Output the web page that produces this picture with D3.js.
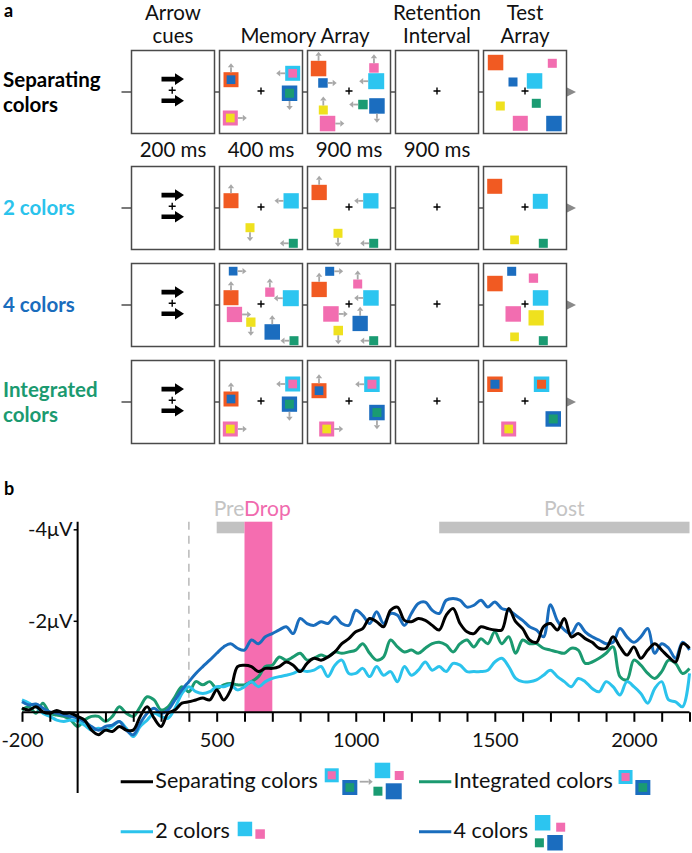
<!DOCTYPE html>
<html><head><meta charset="utf-8">
<script src="https://cdn.jsdelivr.net/npm/d3@7"></script>
<style>body{margin:0;background:#fff}svg{display:block}text{font-family:Lato,"Open Sans",sans-serif}</style>
</head><body><svg id="c" width="692" height="853"></svg>
<script>
// ---------- DATA ----------
const times = d3.range(-200, 2201, 25);   // ms
const sepColors = [-0.09,-0.05,-0.12,-0.01,0.02,-0.04,0.02,0.02,0.09,0.17,0.39,0.49,0.39,0.42,0.31,0.39,0.39,0.09,-0.12,0.13,0.31,0.02,-0.05,-0.2,-0.23,-0.27,-0.31,-0.27,-0.49,-0.27,-0.49,-1.0,-1.03,-1.0,-0.89,-0.96,-0.96,-1.0,-1.1,-1.03,-0.89,-1.07,-1.18,-1.14,-1.21,-1.32,-1.5,
 -1.61,-1.76,-1.83,-2.05,-1.98,-1.87,-2.23,-2.3,-2.01,-1.98,-2.05,-2.01,-1.9,-1.8,-2.12,-2.27,-1.94,-1.76,-1.72,-1.87,-1.83,-1.8,-1.8,-2.27,-1.98,-1.83,-1.58,-1.53,-1.87,-1.94,-1.8,-2.05,-1.65,-1.72,-1.61,-1.53,-1.4,-1.4,-1.65,-1.43,-1.25,-1.43,-1.18,-1.36,-1.5,-1.36,-1.21,-1.1,-1.5,-1.4];
const twoColors = [-0.27,-0.2,-0.12,0.02,0.09,0.17,0.2,0.17,0.2,0.28,0.39,0.35,0.39,0.31,0.2,0.35,0.53,0.31,0.17,0.02,0.09,0.13,-0.09,-0.41,-0.56,-0.45,-0.41,-0.45,-0.56,-0.56,-0.6,-0.49,-0.56,-0.67,-0.56,-0.67,-0.74,-0.78,-0.81,-0.85,-0.92,-0.89,-0.92,-1.0,-0.78,-1.03,-1.14,
 -0.85,-0.85,-0.96,-0.78,-1.0,-0.81,-0.89,-0.67,-1.0,-0.81,-0.92,-1.1,-0.92,-1.0,-0.89,-1.07,-1.03,-0.89,-0.89,-0.89,-0.92,-1.1,-1.18,-1.0,-0.74,-0.67,-0.67,-0.71,-0.81,-0.92,-0.78,-0.67,-0.56,-0.74,-0.67,-0.52,-0.45,-0.67,-0.56,-0.38,-0.67,-0.56,-0.41,-0.2,-0.52,-0.67,-0.27,-0.23,-0.12,-0.85];
const fourColors = [-0.23,-0.16,-0.18,-0.09,-0.01,0.02,0.06,0.09,0.13,0.2,0.31,0.39,0.31,0.28,0.2,0.39,0.49,0.24,0.02,-0.09,0.02,-0.05,-0.27,-0.49,-0.67,-0.85,-1.0,-1.14,-1.29,-1.43,-1.5,-1.4,-1.36,-1.58,-1.5,-1.65,-1.72,-1.8,-1.87,-1.72,-2.05,-1.94,-1.9,-1.98,-1.94,-2.09,-1.94,
 -1.9,-2.23,-2.12,-1.94,-2.2,-1.94,-2.16,-2.12,-1.9,-2.16,-2.38,-2.41,-2.23,-2.16,-2.45,-2.49,-2.45,-2.3,-2.34,-2.45,-2.3,-2.41,-2.27,-2.23,-2.12,-2.01,-1.87,-1.8,-1.65,-2.35,-2.0,-1.8,-1.72,-1.94,-1.76,-1.65,-1.58,-1.5,-1.53,-1.83,-1.65,-1.53,-1.65,-1.83,-1.29,-1.5,-1.4,-1.18,-1.53,-1.36];
const intColors = [-0.05,-0.12,0.02,-0.2,0.02,0.06,0.09,0.17,0.31,0.17,0.09,0.09,0.2,0.09,-0.12,0.02,0.09,-0.12,-0.34,-0.27,-0.05,-0.12,-0.34,-0.56,-0.45,-0.67,-0.6,-0.67,-0.52,-0.6,-0.63,-0.6,-0.6,-0.67,-0.78,-1.0,-1.03,-1.21,-1.14,-1.21,-1.29,-1.14,-1.18,-1.25,-1.21,-1.32,-1.29,
 -1.32,-1.36,-1.5,-1.29,-1.14,-1.21,-1.58,-1.43,-1.32,-1.36,-1.29,-1.4,-1.5,-1.53,-1.47,-1.32,-1.5,-1.58,-1.43,-1.61,-1.5,-1.76,-1.5,-1.65,-1.29,-1.58,-1.5,-1.5,-1.4,-1.36,-1.32,-1.29,-1.4,-1.36,-1.07,-1.1,-1.18,-1.29,-1.43,-0.78,-0.71,-1.14,-1.03,-0.85,-0.74,-0.89,-1.14,-1.07,-0.85,-0.96];
const seriesNames = ["Separating colors","2 colors","4 colors","Integrated colors"];
const xTicks = d3.range(-200, 2201, 100);
const xTickLabels = [-200, 500, 1000, 1500, 2000];
const yTicks = [-4, -2];
const yTickLabels = ["-4μV", "-2μV"];
const windowNames = ["Pre", "Drop", "Post"];
const windowStarts = [500, 600, 1300];
const windowEnds = [600, 700, 2200];
const cueLine = 400;
const phaseHeaders = [["Arrow","cues"],["","Memory Array"],["Retention","Interval"],["Test","Array"]];
const durations = ["200 ms","400 ms","900 ms","900 ms"];

// ---------- STYLE ----------
const COL = {orange:"#F15A22", cyan:"#2CC5F0", blue:"#1B6DBF", green:"#1A9B72", pink:"#F26DB0", yellow:"#EFE11E"};
const lineColors = ["#000000","#2BC3EC","#1A6DBD","#1B9A70"];
const GRAYARROW = "#A8A8A8";
const svg = d3.select("#c");
const FONT = 'Lato,"Open Sans",sans-serif';

// ---------- PANEL A layout ----------
const panelX = d3.scaleLinear().domain([0,1]).range([131.5, 219.5]); // column index -> x
const rowY = [50.5, 166.5, 263.5, 360.5];
const PS = 83;
const rel = d3.scaleLinear().domain([0, 83]).range([0, PS]);

// stimulus layouts: [color, inner, x, y, size, arrowDir]
const stim = [
 { // separating
  1:[["orange","blue",4,21.7,15,"u"],["cyan","pink",65.7,15.3,15,"l"],["blue","green",62.3,35,15.5,"d"],["pink","yellow",3.3,60,15,"r"]],
  2:[["orange",null,3.3,10.3,15.5,"u"],["blue",null,10.7,27.7,9.5,"r"],["pink",null,61.7,12.7,9.5,"u"],["cyan",null,60.7,22.7,16,"l"],["green",null,50.7,49.3,9.5,"l"],["blue",null,61.7,47.7,15.5,"d"],["yellow",null,11.3,55,9,"u"],["pink",null,12.3,65.3,15.5,"r"]],
  4:[["orange",null,4.3,4.3,15.5],["pink",null,64.3,8.3,9],["blue",null,25,27,9],["cyan",null,43.3,22.7,15.5],["yellow",null,12.3,51,9],["green",null,48.3,48.3,9],["pink",null,29.3,65.3,15],["blue",null,62.7,65.3,15.5]]
 },
 { // 2 colors
  1:[["orange",null,4,26.7,15,"u"],["cyan",null,64,26.7,15.3,"l"],["yellow",null,26,56.7,9,"d"],["green",null,69.3,72.3,9,"l"]],
  2:[["orange",null,4,18.3,15.3,"u"],["cyan",null,55.7,26.7,15.3,"l"],["yellow",null,26,62.3,9,"d"],["green",null,61.7,72.3,9,"l"]],
  4:[["orange",null,3.7,12.3,15],["cyan",null,49.3,27.3,15],["yellow",null,26.7,69,8.7],["green",null,55.3,72.3,9]]
 },
 { // 4 colors
  1:[["blue",null,9.3,3.3,8.7,"r"],["orange",null,4,26.7,15,"u"],["pink",null,45.7,24,9.3,"u"],["cyan",null,63.3,26.7,16,"l"],["pink",null,7.3,43.3,15.3,"r"],["yellow",null,26.7,54,9.3,"d"],["blue",null,45,60.7,15.5,"u"],["green",null,70,72.7,9,"l"]],
  2:[["blue",null,17.7,3.3,9,"r"],["orange",null,4,18.3,15.3,"u"],["pink",null,45.7,16,9,"u"],["cyan",null,55.7,26.7,15.5,"l"],["pink",null,15.7,42.7,15.5,"r"],["blue",null,45,52.3,15.3,"u"],["yellow",null,26,62.3,9.5,"d"],["green",null,61.7,72.7,9,"l"]],
  4:[["blue",null,23.7,3.3,9],["orange",null,3.7,12.3,15.5],["pink",null,45.3,10,9.3],["cyan",null,49.3,26.7,15.5],["pink",null,22,42.7,15.5],["yellow",null,45,46.7,15.3],["yellow",null,26.7,69,8.7],["green",null,55.3,72.7,9]]
 },
 { // integrated
  1:[["orange","blue",4,31,15,"u"],["cyan","pink",65.7,16,15,"l"],["blue","green",62.3,36,15.3,"d"],["pink","yellow",3.3,61,15,"r"]],
  2:[["orange","blue",4,22.7,15,"u"],["cyan","pink",56.7,16,15.5,"l"],["blue","green",61.7,44.3,15.5,"d"],["pink","yellow",11.7,61,15,"r"]],
  4:[["orange","blue",3.7,16,15.5],["cyan","orange",50.3,16,15.5],["blue","green",62,50.7,15.5],["pink","yellow",17.7,61,15]]
 }
];

function grayArrow(g, x, y, dir, len) {
  len = len || 9;
  const v = {u:[0,-1], d:[0,1], l:[-1,0], r:[1,0]}[dir];
  const x2 = x + v[0]*len, y2 = y + v[1]*len;
  const hx = x + v[0]*(len-4), hy = y + v[1]*(len-4);
  g.append("line").attr("x1",x).attr("y1",y).attr("x2",hx).attr("y2",hy).attr("stroke",GRAYARROW).attr("stroke-width",1.8);
  const px = -v[1], py = v[0];
  g.append("path").attr("d",`M${x2},${y2}L${hx+px*3.2},${hy+py*3.2}L${hx-px*3.2},${hy-py*3.2}Z`).attr("fill",GRAYARROW);
}
function square(g, x, y, s, c, inner) {
  g.append("rect").attr("x",x).attr("y",y).attr("width",s).attr("height",s).attr("fill",COL[c]);
  if (inner) {
    const is = s*0.58;
    g.append("rect").attr("x",x+(s-is)/2).attr("y",y+(s-is)/2).attr("width",is).attr("height",is).attr("fill",COL[inner]);
  }
}

const ga = svg.append("g");
ga.append("text").attr("x",4).attr("y",17).attr("font-size",18).attr("font-weight","bold").text("a");

// headers
phaseHeaders.forEach((lines,i) => {
  const cx = [0,1.5,3,4][i];
  const x = panelX(cx) + PS/2;
  lines.forEach((t,j) => {
    if (!t) return;
    ga.append("text").attr("x",x).attr("y",[19.5,43][j]).attr("text-anchor","middle").attr("font-size",20.5).attr("fill","#111").text(t);
  });
});
durations.forEach((t,i) => {
  ga.append("text").attr("x",panelX(i)+PS/2).attr("y",157).attr("text-anchor","middle").attr("font-size",20.5).attr("fill","#111").text(t);
});

// row labels
const labelLines = [["Separating","colors"],["2 colors"],["4 colors"],["Integrated","colors"]];
rowY.forEach((y0,r) => {
  const cy = y0 + PS/2;
  const lines = labelLines[r];
  lines.forEach((t,j) => {
    const by = cy + 7 + (j - (lines.length-1)/2)*25;
    ga.append("text").attr("x",3).attr("y",by).attr("font-size",20.5).attr("font-weight","bold").attr("fill",lineColors[r]).text(t);
  });
  // connector
  ga.append("line").attr("x1",121.5).attr("x2",568).attr("y1",cy).attr("y2",cy).attr("stroke","#7a7a7a").attr("stroke-width",2);
  ga.append("path").attr("d",`M567,${cy-4.5}L576,${cy}L567,${cy+4.5}Z`).attr("fill","#8a8a8a");
  for (let c=0;c<5;c++){
    const x0 = panelX(c);
    const g = ga.append("g").attr("transform",`translate(${x0},${y0})`);
    g.append("rect").attr("width",PS).attr("height",PS).attr("fill","#fff").attr("stroke","#4a4a4a").attr("stroke-width",1.5);
    // fixation cross
    const fx = c===0 ? rel(40.7) : rel(41.5), fy = c===0 ? rel(39.8) : rel(40.5);
    g.append("path").attr("d",`M${fx-3.5},${fy}H${fx+3.5}M${fx},${fy-3.5}V${fy+3.5}`).attr("stroke","#000").attr("stroke-width",1.4);
    if (c===0) {
      [28.6, 50.3].forEach(ay => {
        const y = rel(ay);
        g.append("path").attr("d",`M${rel(30)},${y-2.3}H${rel(43.5)}V${y-5.8}L${rel(52.5)},${y}L${rel(43.5)},${y+5.8}V${y+2.3}H${rel(30)}Z`).attr("fill","#000");
      });
    }
    const items = stim[r][c];
    if (items) items.forEach(([col,inner,x,y,s,dir]) => {
      const X = rel(x), Y = rel(y), S = rel(s);
      square(g, X, Y, S, col, inner);
      if (dir) {
        if (dir==="u") grayArrow(g, X+S/2, Y, "u");
        if (dir==="d") grayArrow(g, X+S/2, Y+S, "d");
        if (dir==="l") grayArrow(g, X, Y+S/2, "l");
        if (dir==="r") grayArrow(g, X+S, Y+S/2, "r");
      }
    });
  }
});

// ---------- PANEL B ----------
const gb = svg.append("g");
gb.append("text").attr("x",4).attr("y",495).attr("font-size",18).attr("font-weight","bold").text("b");
const x = d3.scaleLinear().domain([-200, 2200]).range([22, 689.5]);
const y = d3.scaleLinear().domain([0, -4]).range([712.3, 529.3]);

// windows
windowNames.forEach((n,i) => {
  const x0 = x(windowStarts[i]), x1 = x(windowEnds[i]);
  if (n === "Drop") {
    gb.append("rect").attr("x",x0).attr("y",521.7).attr("width",x1-x0).attr("height",y(0)-521.7).attr("fill","#F56DB0");
  } else {
    gb.append("rect").attr("x",x0).attr("y",521.7).attr("width",x1-x0).attr("height",11.6).attr("fill","#C2C2C2");
  }
});
// labels Pre / Drop / Post
const pd = gb.append("text").attr("y",516).attr("font-size",21);
pd.append("tspan").attr("fill","#C4C4C4").text("Pre");
pd.append("tspan").attr("fill","#F06AAE").text("Drop");
pd.attr("x", x(500) - 3);
gb.append("text").attr("x",(x(1300)+x(2200))/2).attr("y",516).attr("text-anchor","middle").attr("font-size",21).attr("fill","#C4C4C4").text("Post");

// dashed cue line
gb.append("line").attr("x1",x(cueLine)).attr("x2",x(cueLine)).attr("y1",521.7).attr("y2",y(0)).attr("stroke","#BDBDBD").attr("stroke-width",1.6).attr("stroke-dasharray","8,6");

// lines
const series = [sepColors, twoColors, fourColors, intColors];
const lineGen = d3.line().x((d,i)=>x(times[i])).y(d=>y(d)).curve(d3.curveCatmullRom.alpha(0.5));
[3,1,2,0].forEach(k => {
  gb.append("path").datum(series[k]).attr("d",lineGen).attr("fill","none").attr("stroke",lineColors[k]).attr("stroke-width",3).attr("stroke-linejoin","round");
});

// x axis
const xa = gb.append("g").attr("transform",`translate(0,${y(0)})`)
  .call(d3.axisBottom(x).tickValues(xTicks).tickSize(9.5).tickPadding(4).tickFormat(d => xTickLabels.includes(d) ? String(d) : ""));
xa.select(".domain").attr("stroke","#000").attr("stroke-width",2).attr("d",`M${x(-200)},0H${x(2200)}`);
xa.selectAll(".tick line").attr("stroke","#000").attr("stroke-width",2);
xa.selectAll(".tick text").attr("font-family",FONT).attr("font-size",20).attr("fill","#111").attr("dy","1.05em");

// y axis
const ya = gb.append("g").attr("transform",`translate(${x(0)},0)`)
  .call(d3.axisLeft(y).tickValues(yTicks).tickSize(4).tickPadding(1).tickFormat((d,i)=>yTickLabels[i]));
ya.select(".domain").attr("stroke","#000").attr("stroke-width",2).attr("d","M0,521.7V793");
ya.selectAll(".tick line").attr("stroke","#000").attr("stroke-width",1.5);
ya.selectAll(".tick text").attr("font-family",FONT).attr("font-size",20).attr("fill","#111");

// legend
const legend = [
  {k:0, x:120.7, y:781.7, icons:[["sq","cyan","pink",7,-13.4,14],["sq","blue","green",24.6,-1.7,15],["ar",42,0,13],["sq","cyan",null,57,-19,15.5],["sq","pink",null,77,-10.7,9],["sq","green",null,55.7,5,9],["sq","blue",null,68,1.6,16]]},
  {k:3, x:419, y:781.7, icons:[["sq","cyan","pink",5.7,-11.7,14],["sq","blue","green",22.5,-1.7,15]]},
  {k:1, x:120.7, y:831.7, icons:[["sq","cyan",null,7.8,-10,14.5],["sq","pink",null,25.5,-2.4,9.5]]},
  {k:2, x:419, y:831.7, icons:[["sq","cyan",null,6.7,-16.7,15.5],["sq","pink",null,28,-9,9],["sq","green",null,6.7,6.6,9],["sq","blue",null,19.1,3.3,15.5]]}
];
legend.forEach(L => {
  const g = gb.append("g");
  g.append("line").attr("x1",L.x).attr("x2",L.x+32.3).attr("y1",L.y).attr("y2",L.y).attr("stroke",lineColors[L.k]).attr("stroke-width",3);
  const t = g.append("text").attr("x",L.x+34.6).attr("y",L.y+6.5).attr("font-size",21.5).attr("fill","#111").text(seriesNames[L.k]);
  const te = L.x + 34.6 + t.node().getComputedTextLength();
  L.icons.forEach(ic => {
    if (ic[0]==="sq") square(g, te+ic[3], L.y+ic[4], ic[5], ic[1], ic[2]);
    else {
      const g2 = g.append("g");
      g2.append("line").attr("x1",te+ic[1]).attr("x2",te+ic[1]+ic[3]-4).attr("y1",L.y).attr("y2",L.y).attr("stroke",GRAYARROW).attr("stroke-width",1.8);
      g2.append("path").attr("d",`M${te+ic[1]+ic[3]},${L.y}L${te+ic[1]+ic[3]-4},${L.y-3.2}L${te+ic[1]+ic[3]-4},${L.y+3.2}Z`).attr("fill",GRAYARROW);
    }
  });
});
</script></body></html>
